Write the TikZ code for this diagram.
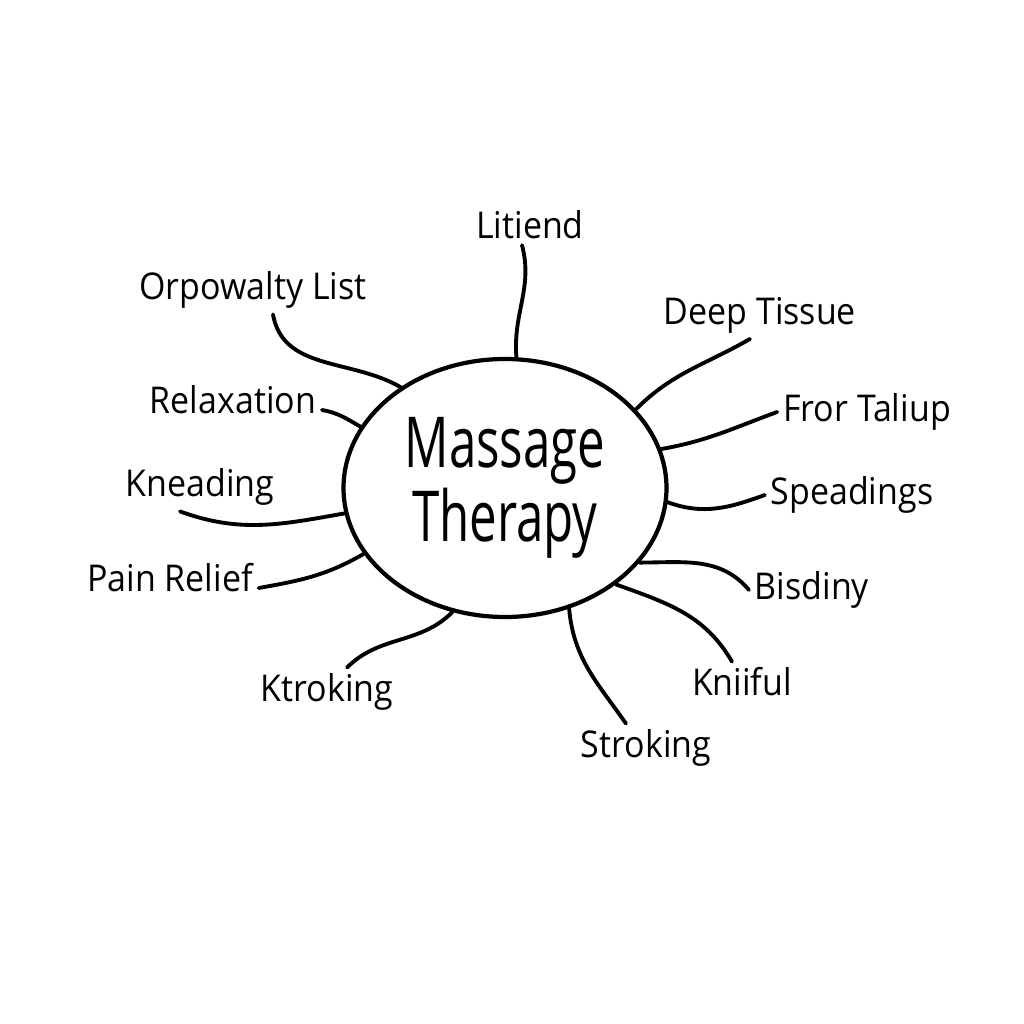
\documentclass[tikz,border=0pt]{standalone}
\usepackage{fontspec}
\newfontfamily\hand[FakeStretch=0.92]{Open Sans}
\newfontfamily\handbig[FakeStretch=0.7]{Open Sans}
\usetikzlibrary{positioning,shapes.geometric}

\begin{document}
\begin{tikzpicture}[line cap=round]
  \tikzset{
    lbl/.style={font=\hand\fontsize{10.5}{12}\selectfont,inner sep=1.5pt},
    hub/.style={draw,ellipse,line width=1.2pt,align=center,
      minimum width=3.23cm,minimum height=2.58cm,
      font=\handbig\fontsize{20}{21}\selectfont},
    branch/.style={line width=1.1pt}
  }
  \useasboundingbox[fill=white] (0,0) rectangle (10.24,10.24);
  % centre blob
  \node[hub] (mt) at (5.05,5.36) {Massage\\Therapy};
  % labels round it
  \node[lbl] (lit) at (5.30,7.99) {Litiend};
  \node[lbl] (orp) at (2.53,7.34) {Orpowalty List};
  \node[lbl] (deep) at (7.60,7.09) {Deep Tissue};
  \node[lbl] (rel) at (2.33,6.24) {Relaxation};
  \node[lbl] (fror) at (8.67,6.12) {Fror Taliup};
  \node[lbl] (knead) at (2.00,5.37) {Kneading};
  \node[lbl] (spead) at (8.52,5.29) {Speadings};
  \node[lbl] (pain) at (1.70,4.46) {Pain Relief};
  \node[lbl] (bis) at (8.12,4.34) {Bisdiny};
  \node[lbl] (kni) at (7.42,3.42) {Kniiful};
  \node[lbl] (ktr) at (3.27,3.32) {Ktroking};
  \node[lbl] (str) at (6.46,2.76) {Stroking};
  % branches
  \draw[branch] ([xshift=-0.8mm]lit.south) to[out=-75,in=95] (mt.85);
  \draw[branch] ([xshift=2mm]orp.south) to[out=-80,in=150] (mt.136);
  \draw[branch] ([xshift=-1mm]deep.south) to[out=-150,in=45] (mt.31);
  \draw[branch] ([yshift=-1mm]rel.east) to[out=-10,in=150] (mt.157);
  \draw[branch] (fror.west) to[out=200,in=10] (mt.14);
  \draw[branch] ([xshift=-2mm]knead.south) to[out=-20,in=190] (mt.189);
  \draw[branch] (spead.west) to[out=200,in=-20] (mt.-5);
  \draw[branch] ([yshift=-1mm]pain.east) to[out=10,in=-150] (mt.205);
  \draw[branch] (bis.west) to[out=130,in=0] (mt.-29);
  \draw[branch] ([xshift=-1mm]kni.north) to[out=120,in=-20] (mt.-41);
  \draw[branch] ([xshift=2mm]ktr.north) to[out=45,in=-135] (mt.247);
  \draw[branch] ([xshift=-2mm]str.north) to[out=125,in=-85] (mt.-62);
\end{tikzpicture}
\end{document}
